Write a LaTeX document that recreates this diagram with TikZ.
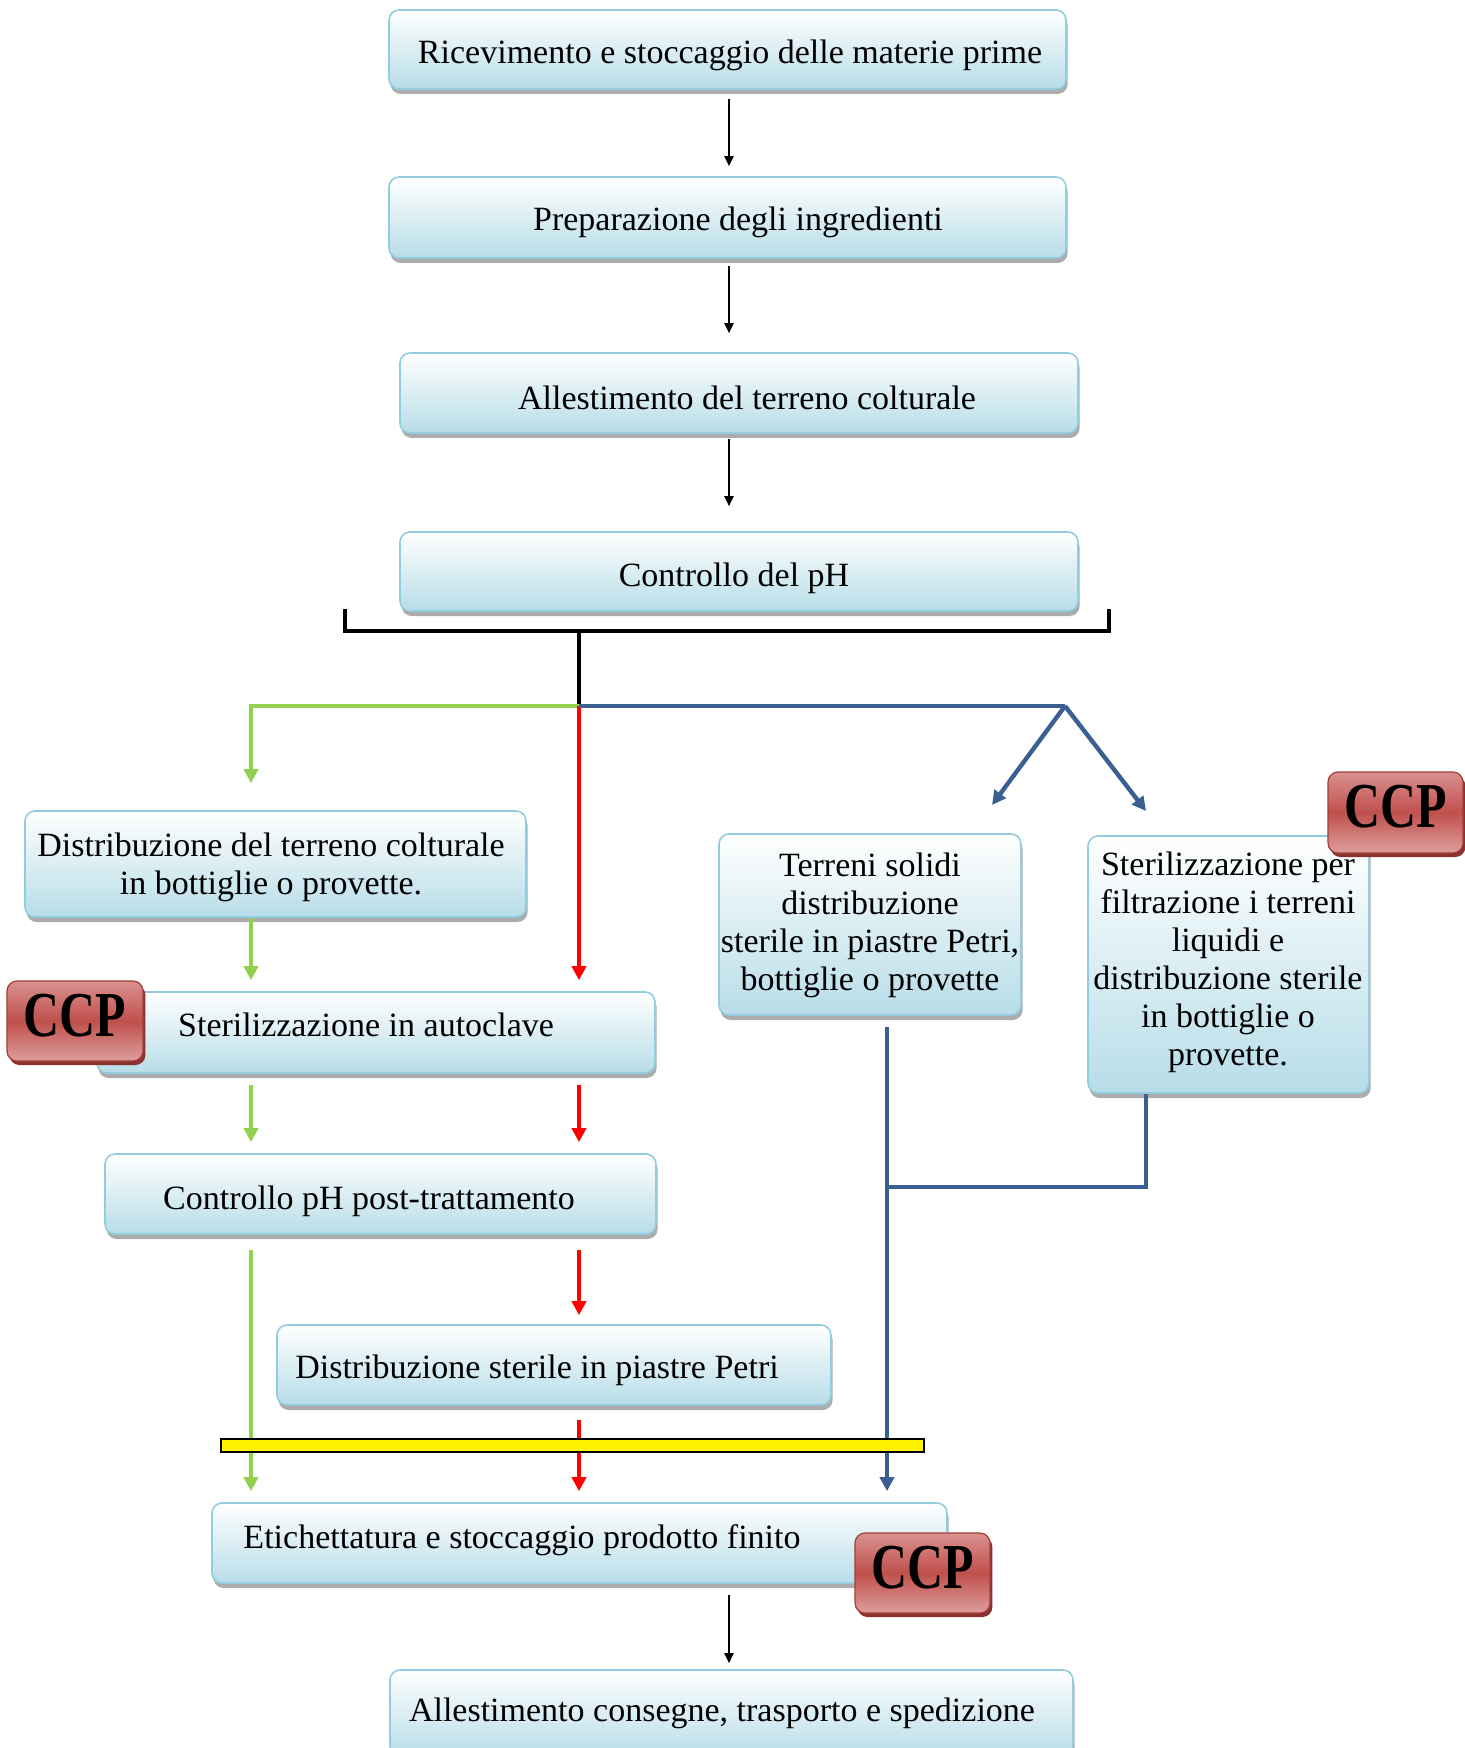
\documentclass[tikz,border=0pt]{standalone}
\usepackage{fontspec}
\setmainfont{Liberation Serif}
\newfontfamily\ccpfont{Liberation Serif}[FakeStretch=0.78]
\usetikzlibrary{arrows.meta,shadows,calc}
\definecolor{boxblue}{HTML}{B7DDE8}
\definecolor{boxline}{HTML}{93CDDD}
\definecolor{gline}{HTML}{92D050}
\definecolor{rline}{HTML}{FF0000}
\definecolor{bline}{HTML}{3A5F92}
\definecolor{ccptop}{HTML}{D9918F}
\definecolor{ccpmid}{HTML}{C0504D}
\definecolor{ccpbot}{HTML}{DE9E9C}
\definecolor{ccpedge}{HTML}{A33E3B}
\definecolor{ccpshadow}{HTML}{8A3230}
\begin{document}
\begin{tikzpicture}[x=0.5pt,y=-0.5pt,
  flow/.style={draw=boxline, line width=0.8pt, rounded corners=5pt,
    top color=white, bottom color=boxblue,
    drop shadow={shadow xshift=0.8pt, shadow yshift=-2.5pt, fill=gray!65, opacity=1},
    inner sep=0pt},
  txt/.style={font=\fontsize{17}{19}\selectfont, align=center, inner sep=0pt},
  ccp/.style={draw=ccpedge, line width=0.6pt, rounded corners=5pt,
    top color=ccptop, bottom color=ccpbot, middle color=ccpmid,
    drop shadow={shadow xshift=1.2pt, shadow yshift=-2pt, fill=ccpshadow, opacity=1},
    font=\ccpfont\bfseries\fontsize{32}{32}\selectfont, inner sep=0pt, text depth=6pt},
  blk/.style={draw=black, line width=1pt, -{Triangle[length=5pt,width=4.5pt]}},
  brk/.style={draw=black, line width=2.3pt},
  gl/.style={draw=gline, line width=2.2pt},
  rl/.style={draw=rline, line width=2.2pt},
  bl/.style={draw=bline, line width=2.2pt},
  tipc/.style={-{Triangle[length=7pt,width=7pt]}}
]
\useasboundingbox (0,0) rectangle (1464,1748);

% boxes
\node[flow, minimum width=338.5pt, minimum height=39.5pt] (b1) at (727.5,49.5) {};
\node[flow, minimum width=338.5pt, minimum height=40.5pt] (b2) at (727.5,217.5) {};
\node[flow, minimum width=339pt, minimum height=40pt] (b3) at (739,393) {};
\node[flow, minimum width=339pt, minimum height=39.5pt] (b4) at (739,571.5) {};
\node[flow, minimum width=250.5pt, minimum height=53pt] (b5) at (275.5,864) {};
\node[flow, minimum width=279pt, minimum height=40.5pt] (b6) at (376,1032.5) {};
\node[flow, minimum width=275.5pt, minimum height=40pt] (b7) at (380.5,1194) {};
\node[flow, minimum width=277pt, minimum height=40pt] (b8) at (554,1365) {};
\node[flow, minimum width=151pt, minimum height=90.5pt] (b9) at (870,924.5) {};
\node[flow, minimum width=140.5pt, minimum height=128.5pt] (b10) at (1228.5,964.5) {};
\node[flow, minimum width=367.5pt, minimum height=40pt] (b11) at (579.5,1543) {};
\node[flow, minimum width=341.5pt, minimum height=43pt] (b12) at (731.5,1713) {};

% texts
\node[txt] (t1) at (730,55.5) {Ricevimento e stoccaggio delle materie prime};
\node[txt] (t2) at (738,222.5) {Preparazione degli ingredienti};
\node[txt] (t3) at (747,398) {Allestimento del terreno colturale};
\node[txt] (t4) at (734,578.5) {Controllo del pH};
\node[txt] (t5) at (271,867.5) {Distribuzione del terreno colturale\\in bottiglie o provette.};
\node[txt] (t6) at (366,1025) {Sterilizzazione in autoclave};
\node[txt] (t7) at (369,1201) {Controllo pH post-trattamento};
\node[txt] (t8) at (537,1370.5) {Distribuzione sterile in piastre Petri};
\node[txt] (t9) at (870,925) {Terreni solidi\\distribuzione\\sterile in piastre Petri,\\bottiglie o provette};
\node[txt] (t10) at (1228,962.5) {Sterilizzazione per\\filtrazione i terreni\\liquidi e\\distribuzione sterile\\in bottiglie o\\provette.};
\node[txt] (t11) at (522,1540) {Etichettatura e stoccaggio prodotto finito};
\node[txt] (t12) at (722,1713) {Allestimento consegne, trasporto e spedizione};

% helper coordinates
\coordinate (ax) at (729,0);
\coordinate (gx) at (251,0);
\coordinate (rx) at (579,0);
\coordinate (blx) at (887,0);
\coordinate (b10x) at (1146,0);
\coordinate (brL) at (345,609);
\coordinate (brR) at (1109,609);
\coordinate (brLb) at (345,631);
\coordinate (brRb) at (1109,631);
\coordinate (stemtop) at (579,631);
\coordinate (split) at (579,706);
\coordinate (gcorner) at (251,706);
\coordinate (bsplit) at (1065,706);
\coordinate (b9in) at (992,805);
\coordinate (b10in) at (1146,811);
\coordinate (bj) at (887,1187);

% black arrows
\draw[blk, shorten <=4.5pt, shorten >=5pt] (ax |- b1.south) -- (ax |- b2.north);
\draw[blk, shorten <=3.5pt, shorten >=9.5pt] (ax |- b2.south) -- (ax |- b3.north);
\draw[blk, shorten <=2.5pt, shorten >=12.5pt] (ax |- b3.south) -- (ax |- b4.north);
\draw[blk, shorten <=5.5pt, shorten >=3pt] (ax |- b11.south) -- (ax |- b12.north);

% bracket
\draw[brk] (brL) -- (brLb) -- (brRb) -- (brR);
\draw[brk, line width=2pt] (stemtop) -- (split);

% green
\draw[gl, tipc, shorten >=13.5pt] (split) -- (gcorner) -- (gcorner |- b5.north);
\draw[gl, tipc, shorten >=5.5pt] (gx |- b5.south) -- (gx |- b6.north);
\draw[gl, tipc, shorten <=5.5pt, shorten >=5.5pt] (gx |- b6.south) -- (gx |- b7.north);
\draw[gl, tipc, shorten <=7.5pt, shorten >=5.5pt] (gx |- b7.south) -- (gx |- b11.north);

% red
\draw[rl, tipc, shorten >=5.5pt] (split) -- (rx |- b6.north);
\draw[rl, tipc, shorten <=5.5pt, shorten >=5.5pt] (rx |- b6.south) -- (rx |- b7.north);
\draw[rl, tipc, shorten <=7.5pt, shorten >=4.5pt] (rx |- b7.south) -- (rx |- b8.north);
\draw[rl, tipc, shorten <=7pt, shorten >=5.5pt] (rx |- b8.south) -- (rx |- b11.north);

% blue
\draw[bl] (split) -- (bsplit);
\draw[bl, tipc] (bsplit) -- (b9in);
\draw[bl, tipc] (bsplit) -- (b10in);
\draw[bl, tipc, shorten <=5.5pt, shorten >=5.5pt] (blx |- b9.south) -- (blx |- b11.north);
\draw[bl] (b10x |- b10.south) -- (b10x |- bj) -- (bj);

% yellow bar
\node[draw=black, line width=1pt, fill=yellow, minimum width=351.5pt, minimum height=6.5pt, inner sep=0pt] (bar) at (572.5,1445.5) {};

% CCP badges
\node[ccp, minimum width=68pt, minimum height=40pt] (c1) at (75,1021) {CCP};
\node[ccp, minimum width=67.5pt, minimum height=40.5pt] (c2) at (1395.5,812.5) {CCP};
\node[ccp, minimum width=67.5pt, minimum height=40pt] (c3) at (922.5,1573) {CCP};
\end{tikzpicture}
\end{document}
